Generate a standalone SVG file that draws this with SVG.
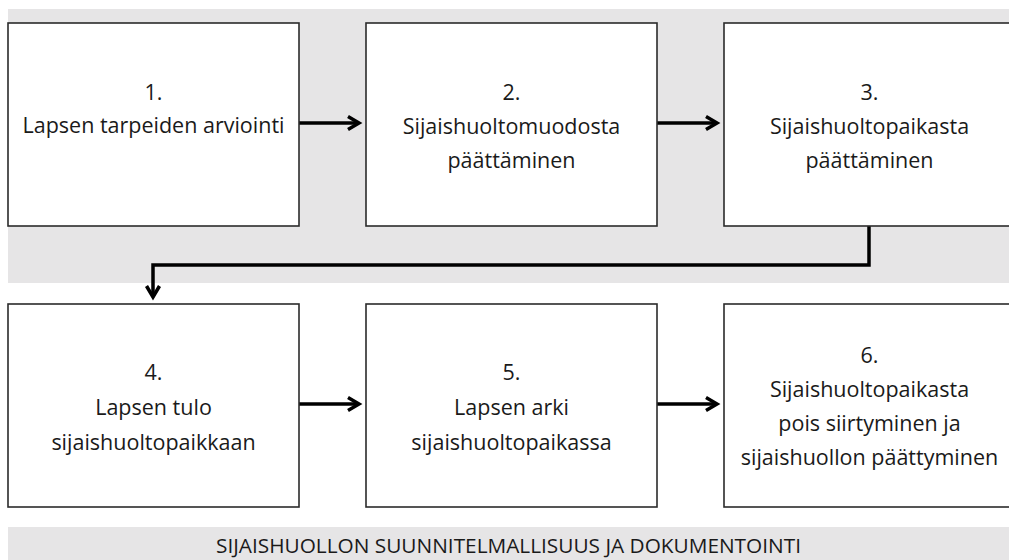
<svg xmlns="http://www.w3.org/2000/svg" width="1009" height="560" viewBox="0 0 1009 560">
  <style>
    .band { fill: #e6e5e6; }
    .box { fill: #ffffff; stroke: #2b2b2b; stroke-width: 1.6; }
    .lbl { font-family: "Open Sans", "Noto Sans", "Liberation Sans", sans-serif; font-size: 21.5px; fill: #1a1a1a; text-anchor: middle; }
    .band-lbl { font-family: "Open Sans", "Noto Sans", "Liberation Sans", sans-serif; font-size: 20.8px; fill: #1a1a1a; text-anchor: middle; }
    .conn { fill: none; stroke: #000000; stroke-width: 3.5; }
  </style>
  <defs>
    <marker id="arrow" markerUnits="userSpaceOnUse" markerWidth="20" markerHeight="20" refX="12" refY="7" orient="auto" overflow="visible">
      <path d="M1,0.5 L12,7 L1,13.5" fill="none" stroke="#000" stroke-width="3.5" stroke-linejoin="miter"/>
    </marker>
  </defs>
  <rect width="1009" height="560" fill="#ffffff"/>
  <rect class="band" x="8" y="9" width="1001" height="274"/>
  <g id="band-bottom">
    <rect class="band" x="8" y="527" width="1001" height="33"/>
    <text class="band-lbl" x="508.5" y="553">SIJAISHUOLLON SUUNNITELMALLISUUS JA DOKUMENTOINTI</text>
  </g>
  <g id="connectors">
    <path class="conn" d="M299,123 H359" marker-end="url(#arrow)"/>
    <path class="conn" d="M657,123 H717" marker-end="url(#arrow)"/>
    <path class="conn" d="M869,226 V265 H153 V297" marker-end="url(#arrow)"/>
    <path class="conn" d="M299,404 H359" marker-end="url(#arrow)"/>
    <path class="conn" d="M657,404 H717" marker-end="url(#arrow)"/>
  </g>
  <g id="node1">
    <rect class="box" x="8" y="23" width="291" height="203"/>
    <text class="lbl" x="153.5" y="100">1.</text>
    <text class="lbl" x="153.5" y="133">Lapsen tarpeiden arviointi</text>
  </g>
  <g id="node2">
    <rect class="box" x="366" y="23" width="291" height="203"/>
    <text class="lbl" x="511.5" y="100">2.</text>
    <text class="lbl" x="511.5" y="134">Sijaishuoltomuodosta</text>
    <text class="lbl" x="511.5" y="168">päättäminen</text>
  </g>
  <g id="node3">
    <rect class="box" x="724" y="23" width="291" height="203"/>
    <text class="lbl" x="869.5" y="100">3.</text>
    <text class="lbl" x="869.5" y="134">Sijaishuoltopaikasta</text>
    <text class="lbl" x="869.5" y="168">päättäminen</text>
  </g>
  <g id="node4">
    <rect class="box" x="8" y="304" width="291" height="203"/>
    <text class="lbl" x="153.5" y="380">4.</text>
    <text class="lbl" x="153.5" y="415">Lapsen tulo</text>
    <text class="lbl" x="153.5" y="450">sijaishuoltopaikkaan</text>
  </g>
  <g id="node5">
    <rect class="box" x="366" y="304" width="291" height="203"/>
    <text class="lbl" x="511.5" y="380">5.</text>
    <text class="lbl" x="511.5" y="415">Lapsen arki</text>
    <text class="lbl" x="511.5" y="450">sijaishuoltopaikassa</text>
  </g>
  <g id="node6">
    <rect class="box" x="724" y="304" width="291" height="203"/>
    <text class="lbl" x="869.5" y="363">6.</text>
    <text class="lbl" x="869.5" y="397">Sijaishuoltopaikasta</text>
    <text class="lbl" x="869.5" y="431">pois siirtyminen ja</text>
    <text class="lbl" x="869.5" y="465">sijaishuollon päättyminen</text>
  </g>
</svg>
